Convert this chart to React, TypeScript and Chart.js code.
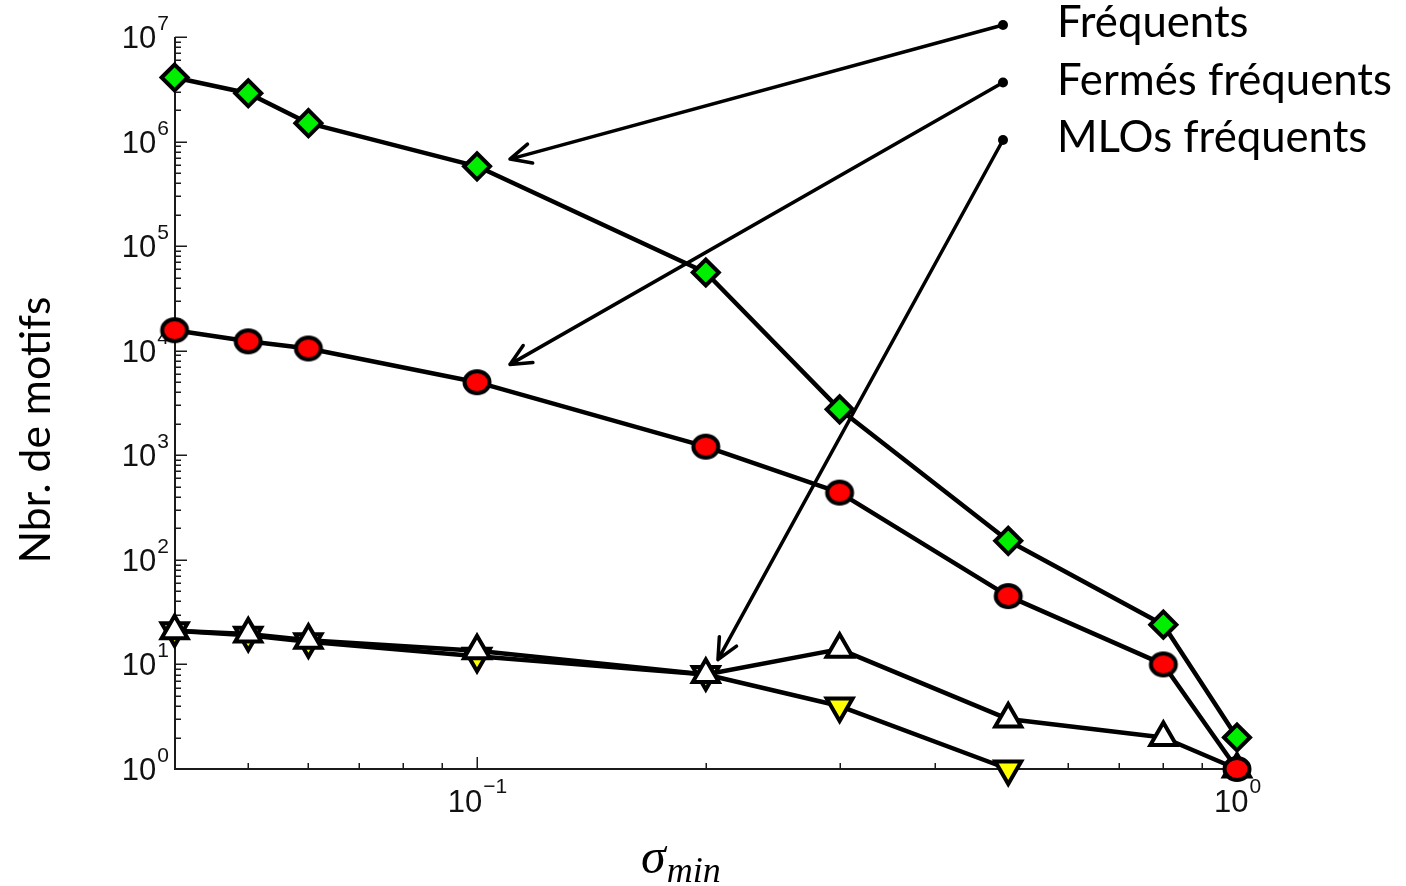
import React, { useEffect, useRef } from 'react';
import { Chart, registerables } from 'chart.js';

Chart.register(...registerables);

// ---- data ----
const sigmaMin = [0.04, 0.05, 0.06, 0.1, 0.2, 0.3, 0.5, 0.8, 1.0];
const frequents = [4.1e6, 2.9e6, 1.5e6, 5.8e5, 5.6e4, 2.75e3, 152, 24, 2];
const fermesFrequents = [1.57e4, 1.23e4, 1.05e4, 5.0e3, 1.21e3, 440, 45, 10, 1];
const mlosFrequentsUp = [21, 19.5, 17, 13.5, 8, 14, 3, 2, 1];
const mlosFrequentsDown = [21, 19, 16.5, 12, 8, 4, 1, null, null];
const legendLabels = ['Fréquents', 'Fermés fréquents', 'MLOs fréquents'];
const arrowTargetX = [0.1105, 0.1105, 0.2075];
const arrowTargetY = [6.8e5, 7.4e3, 11.1];
const xRange = [0.04, 1];
const yRange = [1, 1e7];
const xMajorTicks = [0.1, 1];
const xMajorExponents = ['\u22121', '0'];
const yDecades = [0, 1, 2, 3, 4, 5, 6, 7];
const yAxisTitle = 'Nbr. de motifs';
const xAxisSymbol = '\u03C3';
const xAxisSubscript = 'min';

const TICK_FONT = '"Liberation Sans", Arial, sans-serif';
const TEXT_FONT = 'Lato, "Open Sans", sans-serif';
const AXIS_COLOR = '#1a1a1a';

function makeEllipse(): HTMLCanvasElement {
  const c = document.createElement('canvas');
  c.width = 34;
  c.height = 32;
  const g = c.getContext('2d')!;
  g.beginPath();
  g.ellipse(17, 16, 12.5, 11, 0, 0, Math.PI * 2);
  g.fillStyle = '#ff0000';
  g.fill();
  g.lineWidth = 4;
  g.strokeStyle = '#000';
  g.stroke();
  return c;
}

function fitSize(ctx: CanvasRenderingContext2D, text: string, family: string, target: number) {
  ctx.font = `100px ${family}`;
  return (100 * target) / ctx.measureText(text).width;
}

const axesPlugin = {
  id: 'customAxes',
  beforeDatasetsDraw(chart: any) {
    const { ctx, scales } = chart;
    const xs = scales.x;
    const ys = scales.y;
    const left = Math.round(xs.getPixelForValue(xRange[0]));
    const right = Math.round(xs.getPixelForValue(xRange[1]));
    const bottom = Math.round(ys.getPixelForValue(yRange[0]));
    const top = Math.round(ys.getPixelForValue(yRange[1]));
    ctx.save();
    ctx.strokeStyle = AXIS_COLOR;
    ctx.lineWidth = 2;
    ctx.beginPath();
    ctx.moveTo(left, top);
    ctx.lineTo(left, bottom);
    ctx.lineTo(right, bottom);
    ctx.stroke();

    ctx.lineWidth = 1.5;
    ctx.beginPath();
    for (const d of yDecades) {
      const py = Math.round(ys.getPixelForValue(Math.pow(10, d))) + 0.25;
      ctx.moveTo(left, py);
      ctx.lineTo(left + 12, py);
      if (d < yDecades[yDecades.length - 1]) {
        for (let m = 2; m <= 9; m++) {
          const pm = Math.round(ys.getPixelForValue(m * Math.pow(10, d))) + 0.25;
          ctx.moveTo(left, pm);
          ctx.lineTo(left + 6, pm);
        }
      }
    }
    for (const t of xMajorTicks) {
      const px = Math.round(xs.getPixelForValue(t)) + 0.25;
      ctx.moveTo(px, bottom);
      ctx.lineTo(px, bottom - 12);
    }
    const minors = [0.05, 0.06, 0.07, 0.08, 0.09, 0.2, 0.3, 0.4, 0.5, 0.6, 0.7, 0.8, 0.9];
    for (const t of minors) {
      const px = Math.round(xs.getPixelForValue(t)) + 0.25;
      ctx.moveTo(px, bottom);
      ctx.lineTo(px, bottom - 6);
    }
    ctx.stroke();

    // tick labels
    ctx.fillStyle = '#111';
    ctx.textBaseline = 'alphabetic';
    ctx.textAlign = 'left';
    const big = `31px ${TICK_FONT}`;
    const small = `21px ${TICK_FONT}`;
    for (const d of yDecades) {
      const py = ys.getPixelForValue(Math.pow(10, d));
      ctx.font = big;
      const w1 = ctx.measureText('10').width;
      ctx.font = small;
      const sup = String(d);
      const w2 = ctx.measureText(sup).width;
      const r = left - 6;
      ctx.fillText(sup, r - w2, py - 7);
      ctx.font = big;
      ctx.fillText('10', r - w2 - w1 - 1, py + 11);
    }
    xMajorTicks.forEach((t, i) => {
      const px = xs.getPixelForValue(t);
      ctx.font = big;
      const w1 = ctx.measureText('10').width;
      ctx.font = small;
      const sup = xMajorExponents[i];
      const w2 = ctx.measureText(sup).width;
      const start = px - (w1 + w2) / 2;
      ctx.fillText(sup, start + w1 + 1, bottom + 24);
      ctx.font = big;
      ctx.fillText('10', start, bottom + 43);
    });

    // y axis title
    ctx.fillStyle = '#000';
    const ySize = fitSize(ctx, yAxisTitle, TEXT_FONT, 267);
    ctx.save();
    ctx.translate(left - 139, (top + bottom) / 2 + 27);
    ctx.rotate(-Math.PI / 2);
    ctx.font = `${ySize}px ${TEXT_FONT}`;
    ctx.textAlign = 'center';
    ctx.textBaseline = 'middle';
    ctx.fillText(yAxisTitle, 0, 0);
    ctx.restore();

    // x axis title
    ctx.font = `italic 50px "Liberation Serif", serif`;
    const sx = left + 466;
    ctx.fillText(xAxisSymbol, sx, bottom + 104);
    const ws = ctx.measureText(xAxisSymbol).width;
    ctx.font = `italic 36px "Liberation Serif", serif`;
    ctx.fillText(xAxisSubscript, sx + ws + 1, bottom + 113);
    ctx.restore();
  },
  afterDatasetsDraw(chart: any) {
    const { ctx, scales } = chart;
    const xs = scales.x;
    const ys = scales.y;
    const right = xs.getPixelForValue(xRange[1]);
    const top = ys.getPixelForValue(yRange[1]);
    const dotX = right - 234;
    ctx.save();
    const tSize = fitSize(ctx, legendLabels[1], TEXT_FONT, 335);
    legendLabels.forEach((label, i) => {
      const dy = top - 12 + i * 57.5;
      const tx = xs.getPixelForValue(arrowTargetX[i]);
      const ty = ys.getPixelForValue(arrowTargetY[i]);
      ctx.strokeStyle = '#000';
      ctx.lineWidth = 3.5;
      ctx.lineCap = 'round';
      ctx.lineJoin = 'round';
      ctx.beginPath();
      ctx.moveTo(dotX, dy);
      ctx.lineTo(tx, ty);
      const ang = Math.atan2(dy - ty, dotX - tx);
      const hl = 23;
      const ha = 0.44;
      ctx.moveTo(tx + Math.cos(ang + ha) * hl, ty + Math.sin(ang + ha) * hl);
      ctx.lineTo(tx, ty);
      ctx.lineTo(tx + Math.cos(ang - ha) * hl, ty + Math.sin(ang - ha) * hl);
      ctx.stroke();
      ctx.fillStyle = '#000';
      ctx.beginPath();
      ctx.arc(dotX, dy, 5, 0, Math.PI * 2);
      ctx.fill();
      ctx.font = `${tSize}px ${TEXT_FONT}`;
      ctx.textAlign = 'left';
      ctx.textBaseline = 'alphabetic';
      ctx.fillText(label, dotX + 54, dy + 12);
    });
    ctx.restore();
  },
};

export default function App() {
  const ref = useRef<HTMLCanvasElement | null>(null);
  useEffect(() => {
    if (!ref.current) return;
    const ellipse = makeEllipse();
    const mk = (vals: (number | null)[], style: any, bg: string, radius: number, rotation: number) => ({
      data: sigmaMin
        .map((s, i) => ({ x: s, y: vals[i] }))
        .filter((p) => p.y !== null),
      showLine: true,
      borderColor: '#000',
      borderWidth: 4.5,
      borderJoinStyle: 'round',
      borderCapStyle: 'round',
      pointStyle: style,
      pointBackgroundColor: bg,
      pointBorderColor: '#000',
      pointBorderWidth: 4,
      pointRadius: radius,
      pointRotation: rotation,
      clip: false,
      tension: 0,
    });
    const chart = new Chart(ref.current, {
      type: 'line',
      data: {
        datasets: [
          mk(frequents, 'rectRot', '#00ee00', 13, 0),
          mk(fermesFrequents, ellipse, '#ff0000', 13, 0),
          mk(mlosFrequentsUp, 'triangle', '#ffffff', 15, 0),
          mk(mlosFrequentsDown, 'triangle', '#ffff00', 15, 180),
        ] as any,
      },
      options: {
        responsive: false,
        animation: false,
        events: [],
        layout: { padding: { left: 174.6, right: 169, top: 37, bottom: 117 } },
        plugins: { legend: { display: false }, tooltip: { enabled: false } },
        scales: {
          x: { type: 'logarithmic', min: xRange[0], max: xRange[1], display: false },
          y: { type: 'logarithmic', min: yRange[0], max: yRange[1], display: false },
        },
      },
      plugins: [axesPlugin],
    });
    return () => chart.destroy();
  }, []);
  return (
    <div style={{ position: 'fixed', left: 0, top: 0, width: 1406, height: 886, background: '#fff' }}>
      <canvas ref={ref} width={1406} height={886} />
    </div>
  );
}
